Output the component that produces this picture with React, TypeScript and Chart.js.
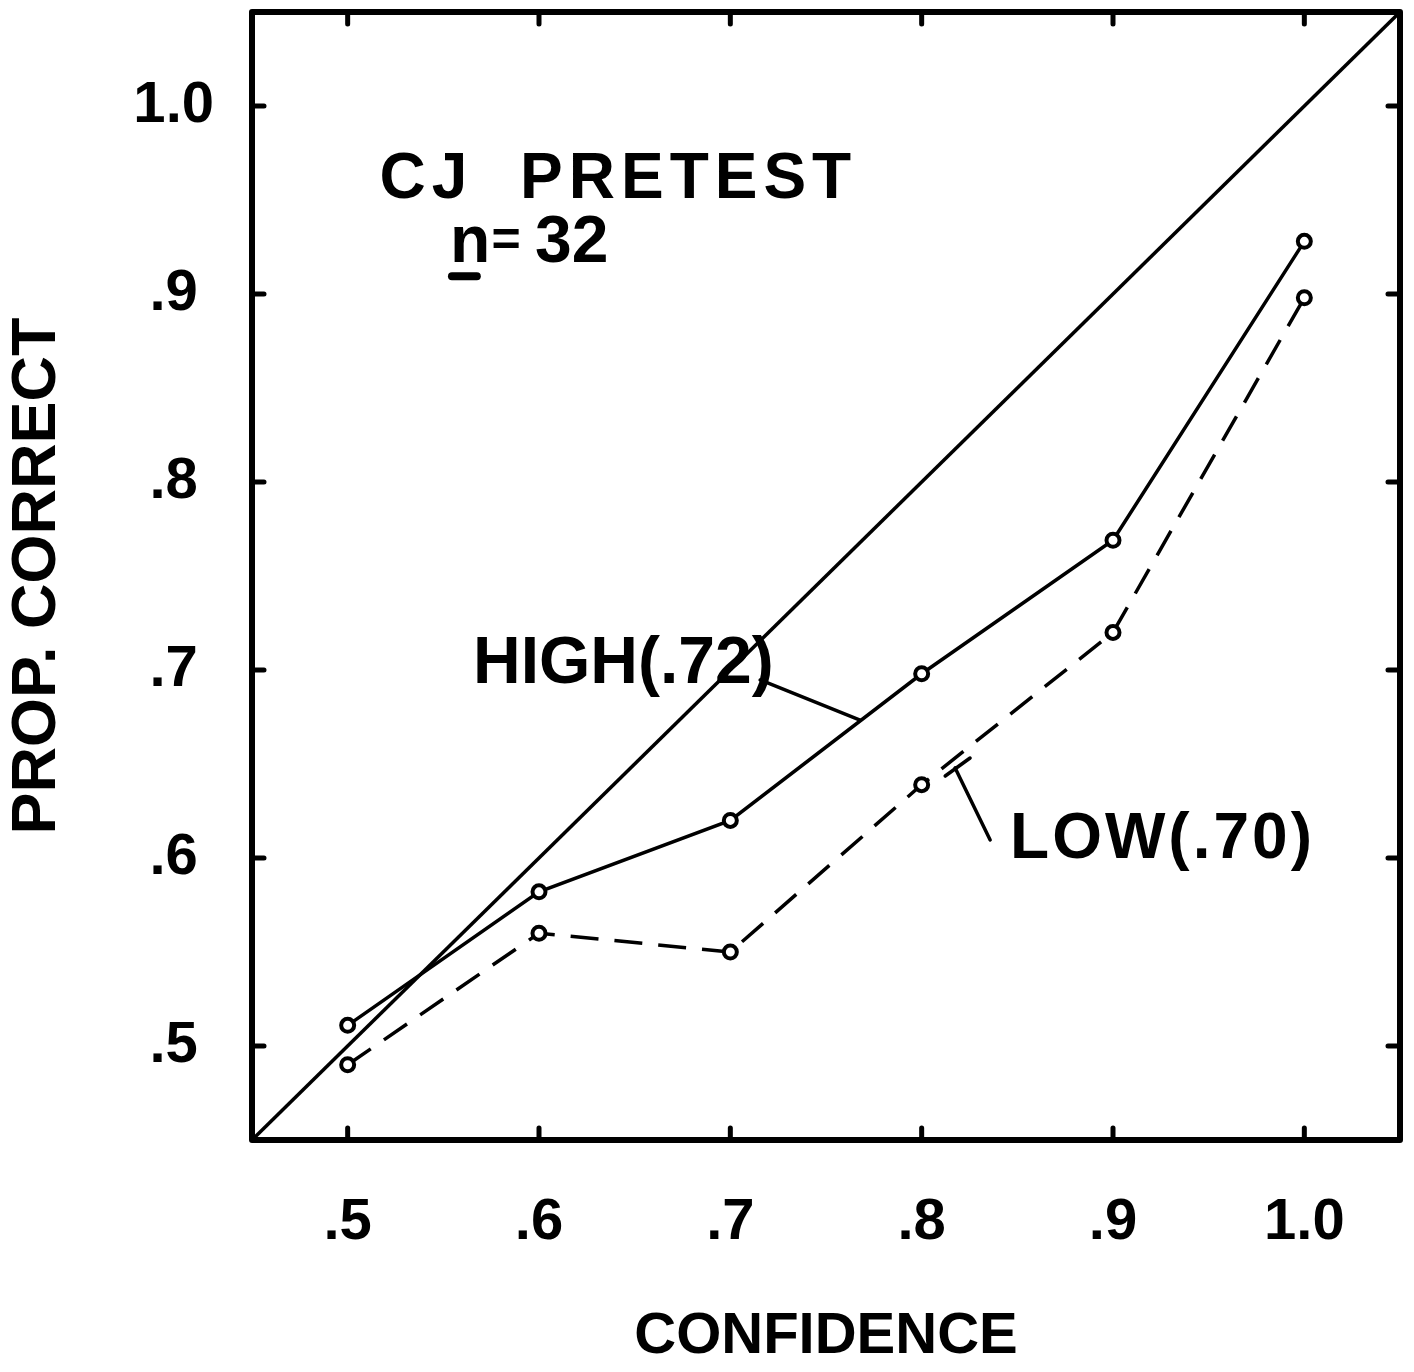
import { useEffect, useRef } from 'react';
import { Chart, registerables } from 'chart.js';

Chart.register(...registerables);

// ---- data ----
const confidence = [0.5, 0.6, 0.7, 0.8, 0.9, 1.0];
const highCorrect = [0.511, 0.582, 0.62, 0.698, 0.769, 0.928];
const lowCorrect = [0.49, 0.56, 0.55, 0.639, 0.72, 0.898];
const diagonalEnds = [0.45, 1.05];
const tickValues = [0.5, 0.6, 0.7, 0.8, 0.9, 1.0];
const tickLabels = ['.5', '.6', '.7', '.8', '.9', '1.0'];
const xTitle = 'CONFIDENCE';
const yTitle = 'PROP. CORRECT';
const headingWords = ['CJ', 'PRETEST'];
const sampleParts = ['n', '=', '32'];
const sampleSizes = [66, 50, 66];
const highLabel = 'HIGH(.72)';
const lowLabel = 'LOW(.70)';

// annotation anchors in data coordinates
const headingAnchors = [[0.5167, 0.951], [0.5901, 0.951]];
const sampleAnchors = [[0.5535, 0.917], [0.5752, 0.92], [0.5979, 0.917]];
const sampleUnderline = [[0.5545, 0.9095], [0.5675, 0.9095]];
const highAnchor = [0.5655, 0.6931];
const lowAnchor = [0.8462, 0.6];
const highLeader = [[0.7156, 0.6947], [0.7678, 0.6734]];
const lowLeader = [[0.8175, 0.6479], [0.8358, 0.6096]];
const lowLeaderBar = [[0.8123, 0.6436], [0.8253, 0.6532]];

const FONT = '"Liberation Sans", Arial, sans-serif';

const overlayPlugin = {
  id: 'overlay',
  afterDatasetsDraw(chart: any) {
    const { ctx, chartArea: a } = chart;
    const xs = chart.scales.x;
    const ys = chart.scales.y;
    const P = (p: number[]) => [xs.getPixelForValue(p[0]), ys.getPixelForValue(p[1])];
    ctx.save();
    ctx.strokeStyle = '#000';
    ctx.fillStyle = '#000';
    ctx.lineCap = 'round';
    ctx.lineJoin = 'round';
    // frame
    ctx.lineWidth = 6;
    ctx.strokeRect(a.left, a.top, a.right - a.left, a.bottom - a.top);
    // inward ticks on all sides
    ctx.lineWidth = 5;
    const tl = 12;
    tickValues.forEach((v) => {
      const px = xs.getPixelForValue(v);
      const py = ys.getPixelForValue(v);
      ctx.beginPath();
      ctx.moveTo(px, a.bottom); ctx.lineTo(px, a.bottom - tl);
      ctx.moveTo(px, a.top); ctx.lineTo(px, a.top + tl);
      ctx.moveTo(a.left, py); ctx.lineTo(a.left + tl, py);
      ctx.moveTo(a.right, py); ctx.lineTo(a.right - tl, py);
      ctx.stroke();
    });
    // leader lines
    ctx.lineWidth = 3.5;
    const seg = (pts: number[][]) => {
      const p0 = P(pts[0]);
      const p1 = P(pts[1]);
      ctx.beginPath();
      ctx.moveTo(p0[0], p0[1]);
      ctx.lineTo(p1[0], p1[1]);
      ctx.stroke();
    };
    seg(highLeader);
    seg(lowLeader);
    seg(lowLeaderBar);
    // texts
    ctx.textBaseline = 'alphabetic';
    ctx.textAlign = 'left';
    ctx.font = `bold 64px ${FONT}`;
    (ctx as any).letterSpacing = '6px';
    headingWords.forEach((w, i) => {
      const p = P(headingAnchors[i]);
      ctx.fillText(w, p[0], p[1]);
    });
    (ctx as any).letterSpacing = '0px';
    sampleParts.forEach((w, i) => {
      ctx.font = `bold ${sampleSizes[i]}px ${FONT}`;
      const p = P(sampleAnchors[i]);
      ctx.fillText(w, p[0], p[1]);
    });
    ctx.lineWidth = 8;
    seg(sampleUnderline);
    ctx.font = `bold 66px ${FONT}`;
    const hp = P(highAnchor);
    ctx.fillText(highLabel, hp[0], hp[1]);
    ctx.font = `bold 64px ${FONT}`;
    (ctx as any).letterSpacing = '3px';
    const lp = P(lowAnchor);
    ctx.fillText(lowLabel, lp[0], lp[1]);
    ctx.restore();
  },
};

const labelFor = (v: number) => {
  const i = tickValues.findIndex((t) => Math.abs(t - v) < 1e-6);
  return i >= 0 ? tickLabels[i] : '';
};

export default function App() {
  const ref = useRef<HTMLCanvasElement>(null);
  useEffect(() => {
    if (!ref.current) return;
    const chart = new Chart(ref.current, {
      type: 'line',
      data: {
        datasets: [
          {
            label: 'diagonal',
            data: diagonalEnds.map((v) => ({ x: v, y: v })),
            borderColor: '#000',
            borderWidth: 3.5,
            pointRadius: 0,
          },
          {
            label: 'HIGH',
            data: confidence.map((c, i) => ({ x: c, y: highCorrect[i] })),
            borderColor: '#000',
            borderWidth: 3.5,
            pointRadius: 6.5,
            pointBorderWidth: 4,
            pointBackgroundColor: '#fff',
            pointBorderColor: '#000',
          },
          {
            label: 'LOW',
            data: confidence.map((c, i) => ({ x: c, y: lowCorrect[i] })),
            borderColor: '#000',
            borderWidth: 3.5,
            borderDash: [28, 16],
            pointRadius: 6.5,
            pointBorderWidth: 4,
            pointBackgroundColor: '#fff',
            pointBorderColor: '#000',
          },
        ],
      },
      options: {
        animation: false,
        responsive: false,
        layout: { padding: { top: 12, right: 14, left: 0, bottom: 0 } },
        plugins: { legend: { display: false }, tooltip: { enabled: false } },
        scales: {
          x: {
            type: 'linear',
            min: 0.45,
            max: 1.05,
            afterFit: (s: any) => { s.height = 232; s.paddingLeft = 0; s.paddingRight = 0; },
            afterBuildTicks: (s: any) => { s.ticks = tickValues.map((v) => ({ value: v })); },
            grid: { display: false, drawTicks: false },
            border: { display: false },
            ticks: {
              padding: 48,
              color: '#000',
              font: { family: FONT, size: 58, weight: 'bold' },
              callback: (v: any) => labelFor(Number(v)),
              maxRotation: 0,
              autoSkip: false,
            },
            title: {
              display: true,
              text: xTitle,
              color: '#000',
              font: { family: FONT, size: 58, weight: 'bold' },
              padding: 0,
            },
          },
          y: {
            type: 'linear',
            min: 0.45,
            max: 1.05,
            afterFit: (s: any) => { s.width = 252; s.paddingTop = 0; s.paddingBottom = 0; },
            afterBuildTicks: (s: any) => { s.ticks = tickValues.map((v) => ({ value: v })); },
            grid: { display: false, drawTicks: false },
            border: { display: false },
            ticks: {
              padding: 38,
              crossAlign: 'center',
              color: '#000',
              font: { family: FONT, size: 58, weight: 'bold' },
              callback: (v: any) => labelFor(Number(v)),
              autoSkip: false,
            },
            title: {
              display: true,
              text: yTitle,
              color: '#000',
              font: { family: FONT, size: 63, weight: 'bold' },
              padding: 0,
            },
          },
        },
      },
      plugins: [overlayPlugin],
    } as any);
    return () => chart.destroy();
  }, []);
  return (
    <div style={{ position: 'absolute', left: 0, top: 0, width: 1414, height: 1372, background: '#fff' }}>
      <canvas ref={ref} width={1414} height={1372} />
    </div>
  );
}
